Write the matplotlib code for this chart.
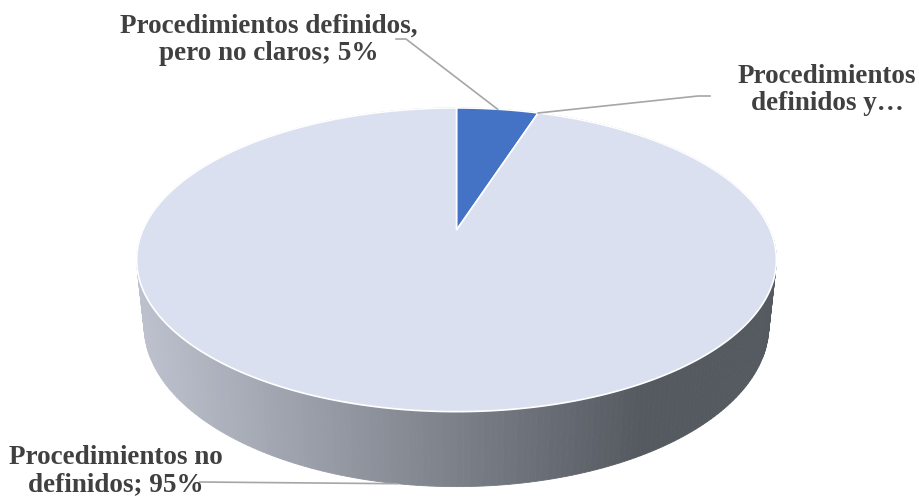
import numpy as np
import matplotlib.pyplot as plt
from matplotlib.patches import Polygon
from matplotlib.colors import to_rgb

categorias = ["Procedimientos definidos, pero no claros",
              "Procedimientos definidos y claros",
              "Procedimientos no definidos"]
valores = [5, 0, 95]
etiquetas = ["Procedimientos definidos,\npero no claros; 5%",
             "Procedimientos\ndefinidos y…",
             "Procedimientos no\ndefinidos; 95%"]
colores = ["#4472C4", "#ED7D31", "#DAE0EF"]

# camara para la tarta 3D (radio 1, grosor H)
L, PHI, H = 4.54, np.radians(27), 0.231
KX, KY = 1424, 1460
CX, CY = 456.5, 230


def proyectar(theta, y=0.0):
    """theta en grados desde las 12 en sentido horario; y = altura."""
    t = np.radians(theta)
    u, v = np.sin(t), -np.cos(t)
    s, c = np.sin(PHI), np.cos(PHI)
    prof = L - y * s - v * c
    return CX + KX * u / prof, CY - KY * (y * c - v * s) / prof


def color_lateral(x):
    c1, c2 = np.array(to_rgb("#BEC2CE")), np.array(to_rgb("#555A61"))
    f = np.clip((x - 140) / (640 - 140), 0, 1)
    return c1 + (c2 - c1) * f


fig = plt.figure(figsize=(9.19, 5), dpi=100)
ax = fig.add_axes([0, 0, 1, 1])
ax.set_xlim(0, 919)
ax.set_ylim(500, 0)
ax.axis("off")

total = sum(valores)
inicios = np.cumsum([0] + valores[:-1]) / total * 360
fines = np.cumsum(valores) / total * 360

# pared lateral, de atras hacia delante
paso = 1.0
segs = []
for a in np.arange(0, 360, paso):
    p1, p2 = proyectar(a), proyectar(a + paso)
    q2, q1 = proyectar(a + paso, -H), proyectar(a, -H)
    prof = -np.cos(np.radians(a + paso / 2))
    segs.append((prof, [p1, p2, q2, q1]))
segs.sort(key=lambda s: s[0])
for prof, pts in segs:
    xm = np.mean([p[0] for p in pts])
    col = color_lateral(xm)
    ax.add_patch(Polygon(pts, closed=True, facecolor=col, edgecolor=col, lw=0.6))

# cara superior
for ini, fin, col in zip(inicios, fines, colores):
    if fin - ini <= 0:
        continue
    ang = np.linspace(ini, fin, max(int(fin - ini) * 2, 4))
    pts = [(CX, CY)] + [proyectar(a) for a in ang]
    ax.add_patch(Polygon(pts, closed=True, facecolor=col, edgecolor="white", lw=1.2))

# etiquetas con lineas guia
est = dict(fontsize=19.5, fontweight="bold", color="#404040",
           family="Liberation Serif", ha="center", va="center", linespacing=1.1)
gris = "#A6A6A6"

ancla1 = proyectar((inicios[0] + fines[0]) / 2)
ax.plot([396, 406, ancla1[0]], [39, 39, ancla1[1]], color=gris, lw=1.2)
ax.text(269, 40, etiquetas[0], **est)

ancla2 = proyectar(inicios[1])
ax.plot([ancla2[0], 698, 710], [ancla2[1], 96, 96], color=gris, lw=1.2)
ax.text(827, 90, etiquetas[1], **est)

ancla3 = proyectar((inicios[2] + fines[2]) / 2, -H)
ax.plot([200, ancla3[0]], [482, ancla3[1]], color=gris, lw=1.2)
ax.text(116, 471, etiquetas[2], **est)

fig.savefig("out.png", dpi=100)
